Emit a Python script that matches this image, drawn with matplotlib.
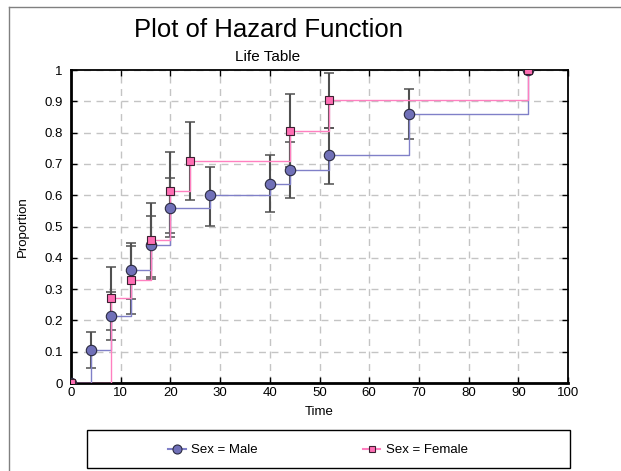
import matplotlib
matplotlib.use('Agg')
import matplotlib.pyplot as plt
from matplotlib.patches import Rectangle
from matplotlib.lines import Line2D

plt.rcParams['font.family'] = ['Liberation Sans', 'DejaVu Sans']

# hazard life table values
timeMale = [0, 4, 8, 12, 16, 20, 28, 40, 44, 52, 68, 92]
hazMale = [0, 0.107, 0.214, 0.36, 0.44, 0.56, 0.60, 0.636, 0.68, 0.727, 0.86, 1.0]
lowMale = [0, 0.049, 0.137, 0.268, 0.339, 0.465, 0.502, 0.546, 0.59, 0.636, 0.78, 1.0]
highMale = [0, 0.163, 0.29, 0.447, 0.534, 0.655, 0.69, 0.729, 0.77, 0.815, 0.94, 1.0]

timeFemale = [0, 8, 12, 16, 20, 24, 44, 52, 92]
hazFemale = [0, 0.27, 0.329, 0.457, 0.613, 0.709, 0.805, 0.903, 1.0]
lowFemale = [0, 0.169, 0.22, 0.332, 0.48, 0.585, 0.69, 0.815, 1.0]
highFemale = [0, 0.371, 0.438, 0.575, 0.738, 0.834, 0.923, 0.99, 1.0]

W, H = 621, 471
fig = plt.figure(figsize=(W / 100, H / 100), dpi=100)
ax = fig.add_axes([71 / W, 1 - 383 / H, (568 - 71) / W, (383 - 70) / H])

maleLine = '#8080C8'
femaleLine = '#FF80C0'

def errs(h, lo, hi):
    return [[h[i] - lo[i] for i in range(1, len(h) - 1)],
            [hi[i] - h[i] for i in range(1, len(h) - 1)]]

ax.errorbar(timeMale[1:-1], hazMale[1:-1], yerr=errs(hazMale, lowMale, highMale),
            fmt='none', ecolor='#505050', elinewidth=1.5, capsize=3.5,
            capthick=1.1, zorder=3)
ax.errorbar(timeFemale[1:-1], hazFemale[1:-1],
            yerr=errs(hazFemale, lowFemale, highFemale),
            fmt='none', ecolor='#505050', elinewidth=1.5, capsize=3.5,
            capthick=1.1, zorder=3)

ax.step(timeMale, hazMale, where='post', color=maleLine, lw=1, zorder=4)
ax.step(timeFemale, hazFemale, where='post', color=femaleLine, lw=1, zorder=4)
ax.plot(timeMale, hazMale, 'o', ms=7.5, mfc='#7070B8', mec='#2a2a40',
        mew=0.8, zorder=5)
ax.plot(timeFemale, hazFemale, 's', ms=6, mfc='#FF6EB4', mec='#3a2030',
        mew=0.8, zorder=6)

ax.set_xlim(0, 100)
ax.set_ylim(0, 1)
ax.set_xticks(range(0, 101, 10))
ax.set_yticks([i / 10 for i in range(11)])
ax.set_yticklabels(['0', '0.1', '0.2', '0.3', '0.4', '0.5', '0.6', '0.7',
                    '0.8', '0.9', '1'])
ax.tick_params(direction='in', top=True, right=True, length=4, width=1,
               labelsize=9.5, pad=3)
ax.tick_params(axis='y', pad=6)
ax.grid(True, color='#C4C4C4', linestyle=(0, (5, 4)), lw=1)
ax.set_axisbelow(True)
for side in ['left', 'bottom']:
    ax.spines[side].set_linewidth(2)
for side in ['top', 'right']:
    ax.spines[side].set_linewidth(1.3)

ax.set_xlabel('Time', fontsize=9.5, labelpad=5)
ax.set_ylabel('Proportion', fontsize=9.5, labelpad=11)

fig.text(269 / W, 1 - 30 / H, 'Plot of Hazard Function', fontsize=18.5,
         ha='center', va='center')
fig.text(268 / W, 1 - 57 / H, 'Life Table', fontsize=11, ha='center',
         va='center')

# outer frame
fig.add_artist(Line2D([9 / W, 1], [1 - 7 / H, 1 - 7 / H], color='#808080',
                      lw=1, transform=fig.transFigure))
fig.add_artist(Line2D([9 / W, 9 / W], [0, 1 - 7 / H], color='#808080',
                      lw=1, transform=fig.transFigure))

# legend box
fig.add_artist(Rectangle((87 / W, 1 - 468 / H), (570 - 87) / W, 38 / H,
                         fill=False, ec='black', lw=1,
                         transform=fig.transFigure))
hMale = Line2D([], [], color=maleLine, marker='o', ms=6.5, mfc='#7070B8',
               mec='#2a2a40', mew=0.8)
hFemale = Line2D([], [], color=femaleLine, marker='s', ms=5, mfc='#FF6EB4',
                 mec='#3a2030', mew=0.8)
fig.legend([hMale, hFemale], ['Sex = Male', 'Sex = Female'], ncol=2,
           loc='center', bbox_to_anchor=(318 / W, 1 - 450 / H),
           frameon=False, fontsize=9.5, handlelength=1.3, markerfirst=True,
           columnspacing=8, handletextpad=0.4)

fig.savefig('out.png', dpi=100)
